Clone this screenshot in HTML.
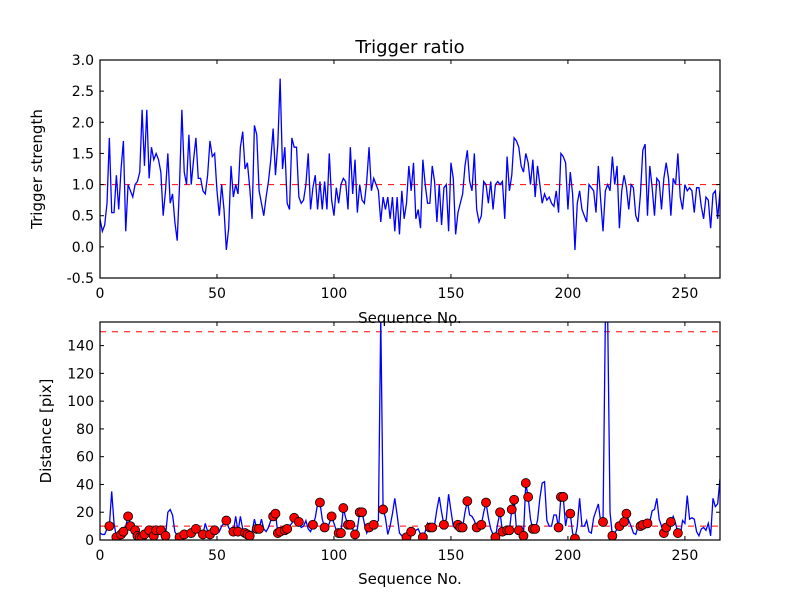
<!DOCTYPE html>
<html><head><meta charset="utf-8"><style>
body{margin:0;background:#fff}
svg{display:block;font-family:"DejaVu Sans","Liberation Sans",sans-serif}
</style></head><body>
<svg id="fig" width="800" height="600" viewBox="0 0 800 600"></svg>
<script>
const trigger=[0.45,0.25,0.35,0.7,1.75,0.55,0.55,1.15,0.6,1.25,1.7,0.25,1.0,0.9,0.8,1.0,1.05,1.2,2.2,1.3,2.2,1.1,1.6,1.4,1.5,1.4,1.2,0.5,0.9,1.5,0.7,0.85,0.4,0.1,1.0,2.2,1.2,1.0,1.8,1.0,1.4,1.75,1.1,1.1,0.9,0.85,1.15,1.7,1.45,1.5,0.9,0.5,1.0,0.6,-0.05,0.3,1.3,0.8,1.0,0.85,1.6,1.85,1.25,1.35,0.95,0.45,1.95,1.8,0.9,0.7,0.5,0.8,1.05,1.4,1.9,1.15,1.65,2.7,1.25,1.6,0.7,0.6,1.75,1.6,1.6,0.8,0.7,0.75,1.0,1.5,0.6,0.95,1.15,0.6,1.05,0.6,1.05,0.6,1.5,0.75,0.5,0.95,0.7,1.0,1.1,1.05,0.6,1.6,0.85,1.4,0.55,1.0,0.75,0.7,1.05,1.6,0.9,1.1,1.0,0.9,0.4,0.8,0.6,0.8,0.45,0.8,0.25,0.8,0.2,0.9,0.45,0.7,1.3,0.9,1.35,0.45,0.6,0.3,1.4,1.0,0.7,0.7,1.3,1.05,0.4,1.0,0.35,0.95,1.0,0.25,1.35,1.1,0.2,0.55,0.7,0.85,1.3,1.55,1.05,0.9,1.5,0.6,0.4,0.5,1.05,1.0,0.7,1.05,0.6,1.0,1.05,1.0,1.05,0.45,1.45,0.9,1.15,1.75,1.7,1.6,1.3,1.2,1.5,1.35,1.0,1.4,0.8,1.3,1.0,0.7,0.85,0.75,0.8,0.7,0.65,0.9,0.55,1.5,1.45,1.35,0.6,1.2,0.85,-0.05,0.7,0.9,0.6,0.5,0.4,1.0,0.95,0.9,0.55,1.3,0.75,0.25,0.9,1.0,0.9,1.45,1.0,1.3,0.3,0.9,1.15,0.95,0.6,1.0,0.95,0.5,0.4,0.85,1.55,1.65,0.5,1.3,0.95,0.5,1.1,1.05,0.6,1.1,1.35,1.1,0.5,1.1,1.0,1.5,0.8,0.6,1.0,0.9,0.95,0.9,0.55,0.95,0.95,0.65,0.45,0.8,0.75,0.3,0.85,0.9,0.45,0.9];
const distance=[5,4,4,8,10,35,12,2,3,4,6,10,17,10,7,7,3,2,2,4,6,7,5,3,7,6,7,5,3,20,22,18,6,3,2,3,4,5,3,5,6,8,5,6,4,12,6,4,5,7,8,6,10,12,14,9,6,6,17,6,17,8,5,4,3,6,15,8,8,15,8,6,9,14,17,19,5,6,6,7,8,10,12,16,15,13,9,10,14,8,6,11,16,26,27,15,9,8,12,17,12,7,5,5,23,16,11,11,8,4,8,20,20,12,5,9,10,11,12,14,160,22,16,4,10,19,30,18,5,3,4,2,4,6,4,7,8,4,2,6,12,9,9,11,22,31,20,11,15,33,21,10,8,11,9,9,20,28,18,17,14,9,9,11,20,27,16,8,4,2,12,20,6,8,7,7,22,29,8,7,4,3,41,31,15,8,8,14,30,41,42,14,10,10,18,18,9,31,31,10,20,19,5,1,10,30,10,10,14,6,5,16,21,26,13,13,160,160,20,3,5,8,10,12,13,19,14,10,5,4,10,10,11,14,12,13,21,22,30,15,10,5,9,11,13,17,12,5,3,14,12,32,15,16,15,6,3,8,9,7,12,3,30,24,26,44];
const markerIdx=[4,7,9,10,12,13,15,16,17,18,19,21,23,24,26,28,34,36,39,41,44,47,49,54,57,59,62,63,64,67,68,74,75,76,77,79,80,83,85,91,94,96,99,102,103,104,106,107,109,111,112,115,117,121,131,133,138,141,142,147,153,154,155,157,161,163,165,169,171,172,174,175,176,177,179,181,182,183,185,186,196,197,198,201,203,215,219,222,224,225,231,232,234,241,242,244,247];
const xTicks=[0,50,100,150,200,250];
const topYTicks=[-0.5,0.0,0.5,1.0,1.5,2.0,2.5,3.0];
const botYTicks=[0,20,40,60,80,100,120,140];
const topThreshold=[1.0];
const botThresholds=[10,150];

const NS="http://www.w3.org/2000/svg";
const svg=document.getElementById('fig');
function el(tag,attrs,parent,text){const e=document.createElementNS(NS,tag);for(const k in attrs)e.setAttribute(k,attrs[k]);if(text!==undefined)e.textContent=text;(parent||svg).appendChild(e);return e;}
const X0=100,X1=720,XMAX=265;
const xs=v=>X0+(v/XMAX)*(X1-X0);
const topAx={y0:60,y1:278,min:-0.5,max:3.0};
const botAx={y0:322,y1:540,min:0,max:157};
const ys=(ax,v)=>ax.y1-(v-ax.min)/(ax.max-ax.min)*(ax.y1-ax.y0);

function panel(ax,name,yTicks,yFmt,ylabel,xlabelY,ylx){
  const g=el('g',{});
  
  
  const cid='clip-'+name;
  const cp=el('clipPath',{id:cid},g);el('rect',{x:X0,y:ax.y0,width:X1-X0,height:ax.y1-ax.y0},cp);
  const plot=el('g',{'clip-path':'url(#'+cid+')'},g);
  const tg=el('g',{},g);
  
  
  xTicks.forEach(t=>{const x=xs(t);
    el('line',{x1:x,x2:x,y1:ax.y1,y2:ax.y1-4,stroke:'#000'},tg);
    el('line',{x1:x,x2:x,y1:ax.y0,y2:ax.y0+4,stroke:'#000'},tg);
    const lb=el('text',{x:x,y:ax.y1+20,'font-size':14,'text-anchor':'middle'},tg,String(t));
    
    
  });
  yTicks.forEach(t=>{const y=ys(ax,t);
    el('line',{x1:X0,x2:X0+4,y1:y,y2:y,stroke:'#000'},tg);
    el('line',{x1:X1,x2:X1-4,y1:y,y2:y,stroke:'#000'},tg);
    const lb=el('text',{x:X0-6,y:y+5,'font-size':14,'text-anchor':'end'},tg,yFmt(t));
    
    
  });
  const yl=el('text',{x:0,y:0,'font-size':15,'text-anchor':'middle',transform:`translate(${ylx},${(ax.y0+ax.y1)/2}) rotate(-90)`},g,ylabel);
  
  
  const xl=el('text',{x:(X0+X1)/2,y:xlabelY,'font-size':15,'text-anchor':'middle'},g,'Sequence No.');
  
  
  return {g,plot};
}

const T=panel(topAx,'top-panel',topYTicks,v=>v.toFixed(1),'Trigger strength',323,42);
topThreshold.forEach(v=>{const l=el('line',{x1:X0,x2:X1,y1:ys(topAx,v),y2:ys(topAx,v),stroke:'#f00','stroke-dasharray':'6,6','stroke-width':1},T.plot);
  
  });
const tl=el('polyline',{points:trigger.map((v,i)=>xs(i)+','+ys(topAx,v)).join(' '),fill:'none',stroke:'#00f','stroke-width':1.3},T.plot);


el('rect',{x:X0,y:topAx.y0,width:X1-X0,height:topAx.y1-topAx.y0,fill:'none',stroke:'#000','stroke-width':1.2},T.g);
const title=el('text',{x:410,y:53,'font-size':18,'text-anchor':'middle'},T.g,'Trigger ratio');



const B=panel(botAx,'bottom-panel',botYTicks,v=>String(v),'Distance [pix]',584,51);
botThresholds.forEach(v=>{const l=el('line',{x1:X0,x2:X1,y1:ys(botAx,v),y2:ys(botAx,v),stroke:'#f00','stroke-dasharray':'6,6','stroke-width':1},B.plot);
  
  });
const dl=el('polyline',{points:distance.map((v,i)=>xs(i)+','+ys(botAx,v)).join(' '),fill:'none',stroke:'#00f','stroke-width':1.3},B.plot);


markerIdx.forEach(i=>{const c=el('circle',{cx:xs(i),cy:ys(botAx,distance[i]),r:4.5,fill:'#f00',stroke:'#000','stroke-width':0.8},B.plot);
  
  });
el('rect',{x:X0,y:botAx.y0,width:X1-X0,height:botAx.y1-botAx.y0,fill:'none',stroke:'#000','stroke-width':1.2},B.g);
</script>
</body></html>
